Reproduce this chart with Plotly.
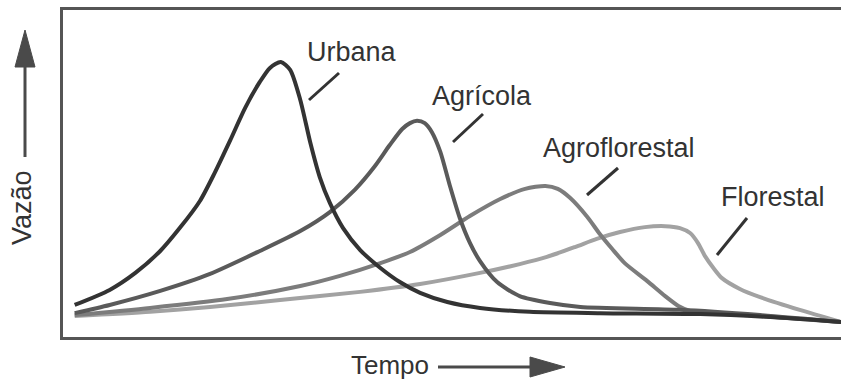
import plotly.graph_objects as go

# Time (0-100) and flow (0-100) values
urbana_t = [1.5, 6.0, 9.3, 12.5, 15.0, 17.6, 19.5, 21.5, 23.4, 25.3, 26.6, 28.0, 29.2, 30.5, 31.8, 33.0, 34.3, 36.0, 38.2, 40.8, 43.3, 45.9, 49.4, 53.6, 60.0, 69.0, 81.9, 90.9, 100]
urbana_q = [9.8, 14.4, 19.6, 26.3, 33.3, 41.6, 50.2, 60.2, 70.0, 78.0, 82.3, 84.1, 81.7, 72.5, 59.3, 48.9, 41.0, 33.3, 26.6, 21.1, 16.8, 13.5, 10.7, 8.9, 7.7, 7.3, 7.0, 6.1, 4.6]

agricola_t = [1.5, 6.0, 12.5, 18.9, 25.3, 30.5, 34.3, 37.5, 40.1, 42.0, 43.6, 44.6, 45.5, 46.5, 47.4, 48.5, 49.7, 51.0, 52.3, 53.6, 55.8, 58.7, 62.6, 66.5, 79.3, 89.6, 100]
agricola_q = [7.3, 9.8, 14.1, 19.3, 26.3, 32.4, 38.2, 45.0, 52.3, 58.7, 63.6, 65.4, 66.1, 65.4, 62.7, 56.6, 46.5, 36.4, 28.8, 23.2, 16.8, 12.5, 10.4, 9.2, 8.3, 6.7, 4.6]

agroflorestal_t = [1.5, 11.2, 21.1, 30.5, 35.6, 40.8, 44.6, 48.5, 52.3, 56.2, 59.4, 62.0, 63.6, 65.2, 67.4, 69.0, 70.6, 72.2, 75.1, 77.4, 79.1, 80.6, 89.6, 100]
agroflorestal_q = [6.7, 8.9, 11.6, 15.6, 18.7, 22.6, 26.0, 31.2, 37.0, 42.2, 45.3, 46.2, 45.3, 42.5, 36.7, 31.5, 26.9, 22.6, 17.1, 12.5, 9.5, 8.0, 6.4, 4.6]

florestal_t = [1.5, 11.2, 18.9, 27.9, 38.2, 45.9, 53.6, 58.7, 62.2, 65.8, 68.6, 71.6, 74.8, 77.4, 79.3, 80.6, 81.6, 82.5, 83.6, 84.7, 87.0, 89.6, 94.7, 100]
florestal_q = [6.4, 7.7, 9.2, 11.3, 13.8, 16.2, 19.6, 22.3, 24.5, 27.5, 30.0, 32.1, 33.6, 33.9, 33.3, 31.8, 28.8, 24.8, 21.1, 18.0, 14.7, 12.2, 8.3, 4.6]

series_names = ["Florestal", "Agroflorestal", "Agrícola", "Urbana"]
series_t = [florestal_t, agroflorestal_t, agricola_t, urbana_t]
series_q = [florestal_q, agroflorestal_q, agricola_q, urbana_q]
series_colors = ["#a2a2a2", "#7c7c7c", "#5a5a5a", "#333333"]

W, H = 841, 379
L, R, T, B = 63, 0, 10, 42
PW, PH = W - L - R, H - T - B


def px(x):
    return (x - L) / PW


def py(y):
    return (H - B - y) / PH


fig = go.Figure()
for name, t, q, c in zip(series_names, series_t, series_q, series_colors):
    fig.add_trace(go.Scatter(x=t, y=q, mode="lines", name=name,
                             line=dict(color=c, width=4, shape="spline", smoothing=0.7),
                             hoverinfo="skip"))

font = dict(family="Liberation Sans, Arial, sans-serif", size=27, color="#333333")

# label text (center x, center y in pixels) and leader lines
labels = [
    ("Urbana", 352, 52, (339, 73, 309, 100)),
    ("Agrícola", 482, 96, (483, 114, 453, 142)),
    ("Agroflorestal", 619, 148, (618, 168, 587, 195)),
    ("Florestal", 773, 197, (747, 218, 717, 255)),
]
shapes = []
annotations = []
for text, cx, cy, (x0, y0, x1, y1) in labels:
    annotations.append(dict(text=text, x=px(cx), y=py(cy), xref="paper", yref="paper",
                            xanchor="center", yanchor="middle", showarrow=False, font=font))
    shapes.append(dict(type="line", xref="paper", yref="paper", x0=px(x0), y0=py(y0),
                       x1=px(x1), y1=py(y1), line=dict(color="#333333", width=3)))

# axis arrows
arrow_col = "#4a4a4a"
shapes.append(dict(type="line", xref="paper", yref="paper", x0=px(25), y0=py(157),
                   x1=px(25), y1=py(66), line=dict(color=arrow_col, width=3)))
shapes.append(dict(type="path", xref="paper", yref="paper",
                   path=f"M {px(15)} {py(67)} L {px(35)} {py(67)} L {px(25)} {py(30)} Z",
                   fillcolor=arrow_col, line=dict(color=arrow_col, width=1)))
shapes.append(dict(type="line", xref="paper", yref="paper", x0=px(438), y0=py(367),
                   x1=px(531), y1=py(367), line=dict(color=arrow_col, width=3)))
shapes.append(dict(type="path", xref="paper", yref="paper",
                   path=f"M {px(530)} {py(357)} L {px(530)} {py(377)} L {px(565)} {py(367)} Z",
                   fillcolor=arrow_col, line=dict(color=arrow_col, width=1)))

annotations.append(dict(text="Vazão", x=px(22), y=py(208), xref="paper", yref="paper",
                        xanchor="center", yanchor="middle", textangle=-90, showarrow=False, font=font))
annotations.append(dict(text="Tempo", x=px(390), y=py(365), xref="paper", yref="paper",
                        xanchor="center", yanchor="middle", showarrow=False,
                        font=dict(family=font["family"], size=26, color="#333333")))

fig.update_layout(
    width=W, height=H,
    margin=dict(l=L, r=R, t=T, b=B),
    paper_bgcolor="white", plot_bgcolor="white",
    showlegend=False,
    shapes=shapes, annotations=annotations,
    xaxis=dict(range=[0, 100], showgrid=False, zeroline=False, showticklabels=False, ticks="",
               showline=True, mirror=True, linecolor="#555555", linewidth=3, fixedrange=True),
    yaxis=dict(range=[0, 100], showgrid=False, zeroline=False, showticklabels=False, ticks="",
               showline=True, mirror=False, linecolor="#555555", linewidth=3, fixedrange=True),
)

fig.write_html("out.html", config={"displayModeBar": False},
               post_script="document.body.style.margin='0';document.body.style.overflow='hidden';")
